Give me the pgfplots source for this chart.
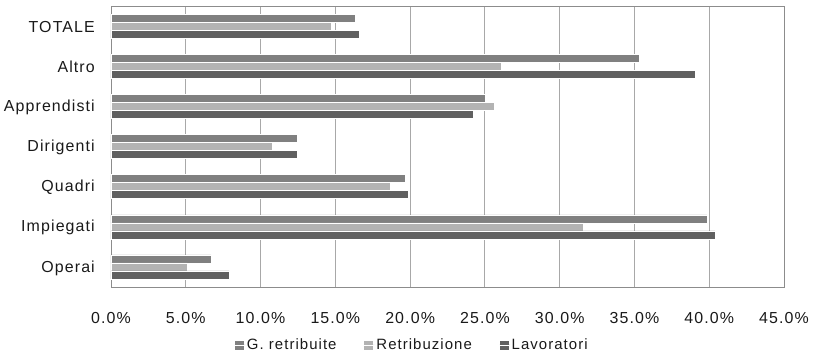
\documentclass[border=0pt]{standalone}
\usepackage{pgfplots}
\pgfplotsset{compat=1.18}
\usepackage{fontspec}
\setmainfont{Liberation Sans}[LetterSpace=7]
\definecolor{cgior}{HTML}{808080}
\definecolor{cretr}{HTML}{B3B3B3}
\definecolor{clavo}{HTML}{606060}
\definecolor{cgrid}{HTML}{A8A8A8}
\definecolor{caxis}{HTML}{8C8C8C}
\begin{document}
\begin{tikzpicture}[x=1bp,y=1bp]
\useasboundingbox (-111,-70) rectangle (704,287);
\begin{axis}[
  at={(0,0)}, anchor=south west,
  scale only axis, width=673bp, height=281bp,
  xmin=0, xmax=45, ymin=-0.5, ymax=6.5,
  xtick={0,5,...,45},
  xticklabels={0.0\%,5.0\%,10.0\%,15.0\%,20.0\%,25.0\%,30.0\%,35.0\%,40.0\%,45.0\%},
  ytick={0,...,6},
  yticklabels={Operai,Impiegati,Quadri,Dirigenti,Apprendisti,Altro,TOTALE},
  tick style={draw=none},
  xmajorgrids, grid style={cgrid, line width=0.8bp},
  axis line style={caxis, line width=0.8bp},
  ticklabel style={font=\fontsize{16}{19}\selectfont, text=black!90},
  xticklabel style={anchor=base, inner sep=0pt, yshift=-36bp},
  yticklabel style={anchor=east, inner sep=0pt, xshift=-16bp, yshift=-1bp},
  legend style={at={(0.447,-0.206)}, anchor=center, draw=none, fill=none,
    legend columns=3, font=\fontsize{15}{18}\selectfont, text=black!90,
    /tikz/every odd column/.append style={column sep=0bp},
    /tikz/every even column/.append style={column sep=26bp},
    nodes={inner xsep=1.5bp}},
  legend image code/.code={
    \fill[#1, draw=none] (0bp,-5.2bp) rectangle (9bp,3.8bp);
    \path (0bp,0bp) -- (10.5bp,0bp);},
]
\addplot[xbar, bar width=8bp, bar shift=8bp, fill=cgior, draw=white, line width=0.4bp]
  coordinates {(6.7,0) (39.85,1) (19.7,2) (12.45,3) (25.0,4) (35.3,5) (16.3,6)};
\addlegendentry{G. retribuite}
\addplot[xbar, bar width=8bp, bar shift=0bp, fill=cretr, draw=white, line width=0.4bp]
  coordinates {(5.1,0) (31.6,1) (18.7,2) (10.8,3) (25.6,4) (26.1,5) (14.7,6)};
\addlegendentry{Retribuzione}
\addplot[xbar, bar width=8bp, bar shift=-8bp, fill=clavo, draw=white, line width=0.4bp]
  coordinates {(7.9,0) (40.4,1) (19.9,2) (12.45,3) (24.2,4) (39.05,5) (16.6,6)};
\addlegendentry{Lavoratori}
\end{axis}
\end{tikzpicture}
\end{document}
